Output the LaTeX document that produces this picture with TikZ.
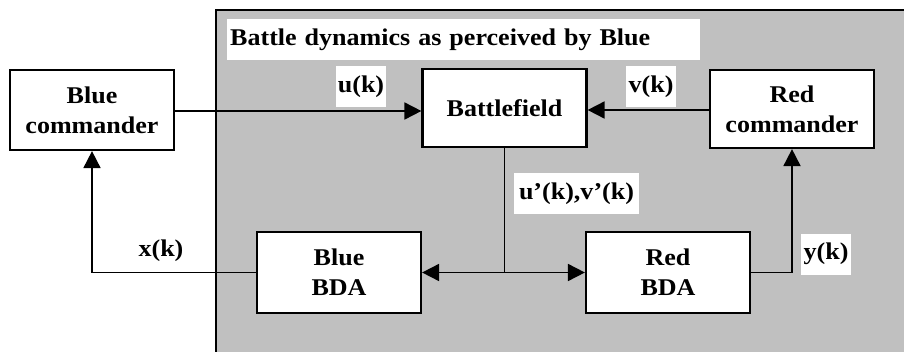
\documentclass[tikz,border=0pt]{standalone}
\usepackage{fontspec}
\setmainfont{Liberation Serif}[FakeStretch=1.085]
\usetikzlibrary{arrows.meta}
\definecolor{panelgray}{RGB}{192,192,192}
\tikzset{
  blockbox/.style={draw=black, line width=2.2pt, fill=white, align=center,
    minimum width=164pt, minimum height=80pt, inner sep=0pt,
    font=\fontsize{24}{30}\selectfont\bfseries},
  taglabel/.style={fill=white, inner sep=0pt, minimum height=41pt,
    font=\fontsize{24}{30}\selectfont\bfseries},
  flow/.style={line width=1.8pt, -{Triangle[length=17pt,width=17pt]}},
  wire/.style={line width=1.8pt}
}
\begin{document}
\begin{tikzpicture}[x=1pt,y=-1pt]
\useasboundingbox (0,0) rectangle (904,351);
\fill[white] (0,0) rectangle (904,351);
% shaded region for the perceived battle dynamics
\fill[panelgray] (216,10) rectangle (906,353);
\draw[line width=2pt] (216,353) -- (216,10) -- (906,10);
\node[taglabel, anchor=north west, minimum width=473pt, text width=467pt, align=left]
  (title) at (227,19) {Battle dynamics as perceived by Blue};

% blocks
\node[blockbox] (bcmd) at (92,110) {Blue\\commander};
\node[blockbox, minimum height=78pt] (bf) at (504.5,108) {Battlefield};
\node[blockbox, minimum height=78pt] (rcmd) at (792,109) {Red\\commander};
\node[blockbox, minimum height=81pt] (bbda) at (339,272.5) {Blue\\BDA};
\node[blockbox, minimum height=81pt] (rbda) at (668,272.5) {Red\\BDA};

% routing points
\coordinate (split) at (bf.south |- bbda.east);
\coordinate (xcorner) at (bcmd.south |- bbda.west);
\coordinate (ycorner) at (rcmd.south |- rbda.east);

% connectors
\draw[flow] (bcmd.east |- 0,111) -- (bf.west |- 0,111);
\draw[flow] (rcmd.west |- 0,110) -- (bf.east |- 0,110);
\draw[wire] (bf.south) -- (split);
\draw[flow] (split) -- (bbda.east);
\draw[flow] (split) -- (rbda.west);
\draw[flow] (bbda.west) -- (xcorner) -- (bcmd.south);
\draw[flow] (rbda.east) -- (ycorner) -- (rcmd.south);

% signal labels
\node[taglabel, minimum width=50pt] (ulab) at (361,86.5) {u(k)};
\node[taglabel, minimum width=50pt] (vlab) at (651,86.5) {v(k)};
\node[taglabel, minimum width=125pt] (uvlab) at (576.5,193.5) {u’(k),v’(k)};
\node[taglabel, minimum width=50pt] (ylab) at (826,254) {y(k)};
\node[taglabel, minimum width=50pt] (xlab) at (161,251) {x(k)};
\end{tikzpicture}
\end{document}
